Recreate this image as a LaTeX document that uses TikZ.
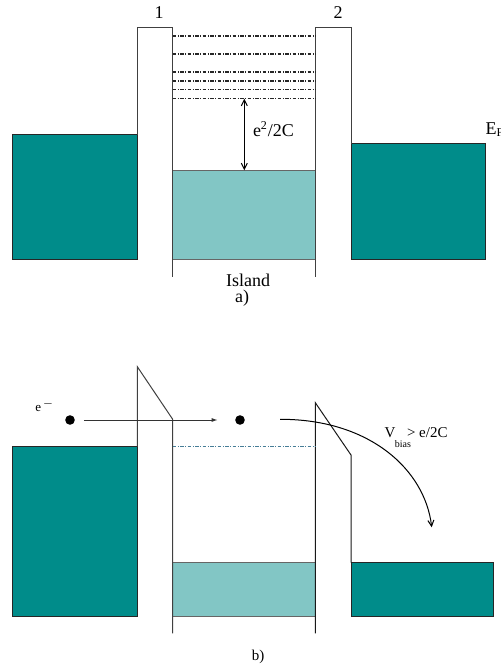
\documentclass[tikz,border=0pt]{standalone}
\usepackage{fontspec}
\setmainfont{Liberation Serif}
\usetikzlibrary{arrows.meta,positioning}
\definecolor{leadcol}{RGB}{0,140,138}
\definecolor{islecol}{RGB}{130,198,197}

\begin{document}
\begin{tikzpicture}[x=0.5pt, y=-0.5pt, >={Straight Barb[length=3pt,width=3pt]}, line width=0.5pt,
  lbl/.style={inner sep=0pt, font=\fontsize{9}{10}\selectfont},
  small/.style={inner sep=0pt, font=\fontsize{7.5}{8}\selectfont},
  wall/.style={draw=black!75},
  band/.style={draw=black!85, fill=leadcol},
  isleband/.style={draw=black!60, fill=islecol},
  level/.style={draw=black!85, line width=0.55pt, dash pattern=on 1.8pt off 0.8pt on 0.35pt off 0.8pt},
  dot/.style={circle, fill=black, inner sep=0pt, minimum size=4.8pt}]
\useasboundingbox (0,0) rectangle (501,669);
% a) no bias
\draw[band] (12.3,134.7) rectangle (137.3,259.3);
\draw[band] (351,143.7) rectangle (485,259.3);
\draw[isleband] (172.7,170.3) rectangle (315.3,259.3);
\draw[wall] (137.3,134.7) |- (172.7,27.3) -- (172.7,276.7);
\draw[wall] (315.3,276.7) |- (351,27.3) -- (351,143.7);
\foreach \y in {36,54,72,81,89.7,98.7}
  \draw[level] (172.7,\y) -- (315.3,\y);
\coordinate (gaptop) at (244.3,98.7);
\coordinate (gapbot) at (244.3,170.3);
\draw[<->] (gaptop) -- (gapbot);
\node[lbl] (one) at (159,13) {1};
\node[lbl] (two) at (338,13) {2};
\node[lbl, anchor=west] (charge) at (252.5,129) {e\textsuperscript{2}/2C};
\node[lbl, anchor=west] (fermi) at (485,130) {E\textsubscript{F}};
\node[lbl] (island) at (248,280) {Island};
\node[lbl] (parta) at (242,298) {a)};
% b) with bias
\draw[band] (12.3,446.7) rectangle (137.3,616);
\draw[band] (351,562.7) rectangle (493.7,616);
\draw[isleband] (172.7,562.7) rectangle (315.3,616);
\draw[wall] (137.3,446.7) -- (137.3,366.7) -- (172.7,419.3) -- (172.7,633.3);
\draw[draw=black!90] (315.3,633.3) -- (315.3,402.7) -- (351,455) -- (351,562.7);
\draw[level, draw=cyan!55!black] (172.7,446.7) -- (315.3,446.7);
\node[dot] (ein) at (70,420) {};
\node[dot] (eon) at (240,420) {};
\draw[-{Latex[length=3pt,width=2pt]}, draw=black!80, shorten <=4.3pt, shorten >=8.5pt] (ein) -- (eon);
\coordinate (hopstart) at (280,419.3);
\coordinate (hopend) at (431.7,527.3);
\draw[->] (hopstart) .. controls (370,419) and (425,470) .. (hopend);
\node[inner sep=0pt, font=\fontsize{6.5}{7}\selectfont] (elec) at (45,405.5) {e\textsuperscript{\,$-$}};
\node[small] (vb) at (390,433) {V};
\node[inner sep=0pt, font=\fontsize{5}{6}\selectfont] (vbsub) at (403,444.5) {bias};
\node[small, anchor=west] (vbval) at (406.5,433) {> e/2C};
\node[small] (partb) at (258,656.5) {b)};
\end{tikzpicture}
\end{document}
